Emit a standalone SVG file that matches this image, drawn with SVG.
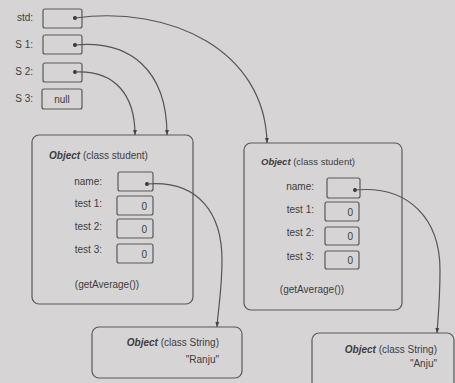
<svg xmlns="http://www.w3.org/2000/svg" width="455" height="383" viewBox="0 0 455 383">
<style>
text{font-family:"Liberation Sans",Arial,sans-serif;font-size:10px;fill:#3d3d3d}
.lbl{text-anchor:end}
.b{font-weight:bold;font-style:italic}
.box{fill:none;stroke:#5a5a5a;stroke-width:1.2}
.obj{fill:none;stroke:#5a5a5a;stroke-width:1.2}
.con{fill:none;stroke:#555;stroke-width:1.2;marker-end:url(#ah)}
.dot{fill:#333}
.v{text-anchor:end;font-size:10px}
</style>
<defs>
<marker id="ah" viewBox="0 0 10 10" refX="10" refY="5" markerWidth="5" markerHeight="5" orient="auto" markerUnits="userSpaceOnUse">
<path d="M0,1 L10,5 L0,9 Z" fill="#444"/>
</marker>
</defs>
<rect width="455" height="383" fill="#d6d4d5"/>

<g id="var-std">
<text class="lbl" x="33" y="21">std:</text>
<rect class="box" x="43" y="9" width="39" height="19" rx="2"/>
<circle class="dot" cx="75" cy="18" r="2"/>
</g>
<g id="var-s1">
<text class="lbl" x="33" y="48">S 1:</text>
<rect class="box" x="43" y="35" width="39" height="19" rx="2"/>
<circle class="dot" cx="75" cy="45" r="2"/>
</g>
<g id="var-s2">
<text class="lbl" x="33" y="75">S 2:</text>
<rect class="box" x="43" y="63" width="39" height="19" rx="2"/>
<circle class="dot" cx="75" cy="72" r="2"/>
</g>
<g id="var-s3">
<text class="lbl" x="33" y="102">S 3:</text>
<rect class="box" x="42" y="89" width="40" height="20" rx="2"/>
<text x="62" y="103" style="text-anchor:middle;font-size:10px">null</text>
</g>

<g id="obj1">
<rect class="obj" x="32" y="135" width="161" height="169" rx="7"/>
<text x="49" y="159"><tspan class="b">Object</tspan> (class student)</text>
<text class="lbl" x="102" y="185">name:</text>
<rect class="box" x="118" y="172" width="35" height="19" rx="2"/>
<circle class="dot" cx="147" cy="184" r="2"/>
<text class="lbl" x="102" y="207">test 1:</text>
<rect class="box" x="117" y="196" width="36" height="19" rx="2"/>
<text class="v" x="147" y="210">0</text>
<text class="lbl" x="102" y="230">test 2:</text>
<rect class="box" x="117" y="219" width="36" height="19" rx="2"/>
<text class="v" x="147" y="233">0</text>
<text class="lbl" x="102" y="253">test 3:</text>
<rect class="box" x="117" y="244" width="36" height="19" rx="2"/>
<text class="v" x="147" y="258">0</text>
<text x="107" y="288" style="text-anchor:middle">(getAverage())</text>
</g>

<g id="obj2">
<rect class="obj" x="244" y="143" width="158" height="167" rx="7"/>
<text x="261" y="165" style="font-size:9.5px"><tspan class="b">Object</tspan> (class student)</text>
<text class="lbl" x="314" y="190">name:</text>
<rect class="box" x="327" y="178" width="33" height="20" rx="2"/>
<circle class="dot" cx="355" cy="190" r="2"/>
<text class="lbl" x="314" y="213">test 1:</text>
<rect class="box" x="325" y="202" width="34" height="19" rx="2"/>
<text class="v" x="353" y="216">0</text>
<text class="lbl" x="314" y="236">test 2:</text>
<rect class="box" x="325" y="227" width="34" height="18" rx="2"/>
<text class="v" x="353" y="240">0</text>
<text class="lbl" x="314" y="260">test 3:</text>
<rect class="box" x="325" y="251" width="34" height="18" rx="2"/>
<text class="v" x="353" y="264">0</text>
<text x="312" y="293" style="text-anchor:middle">(getAverage())</text>
</g>

<g id="str1">
<rect class="obj" x="92" y="327" width="150" height="51" rx="7"/>
<text x="219" y="346" class="lbl"><tspan class="b">Object</tspan> (class String)</text>
<text x="219" y="363" class="lbl">"Ranju"</text>
</g>

<g id="str2">
<rect class="obj" x="312" y="333" width="142" height="60" rx="7"/>
<text x="437" y="353" class="lbl"><tspan class="b">Object</tspan> (class String)</text>
<text x="437" y="367" class="lbl">"Anju"</text>
</g>

<g id="connectors">
<path class="con" d="M75,18 C170,5 265,50 267,143"/>
<path class="con" d="M75,45 C130,40 167,70 167,135"/>
<path class="con" d="M75,72 C115,70 135,95 135,135"/>
<path class="con" d="M147,184 C200,180 222,215 222,260 C222,290 218,310 217,327"/>
<path class="con" d="M355,190 C410,185 440,220 440,270 C440,300 438,318 437,333"/>
</g>
</svg>
